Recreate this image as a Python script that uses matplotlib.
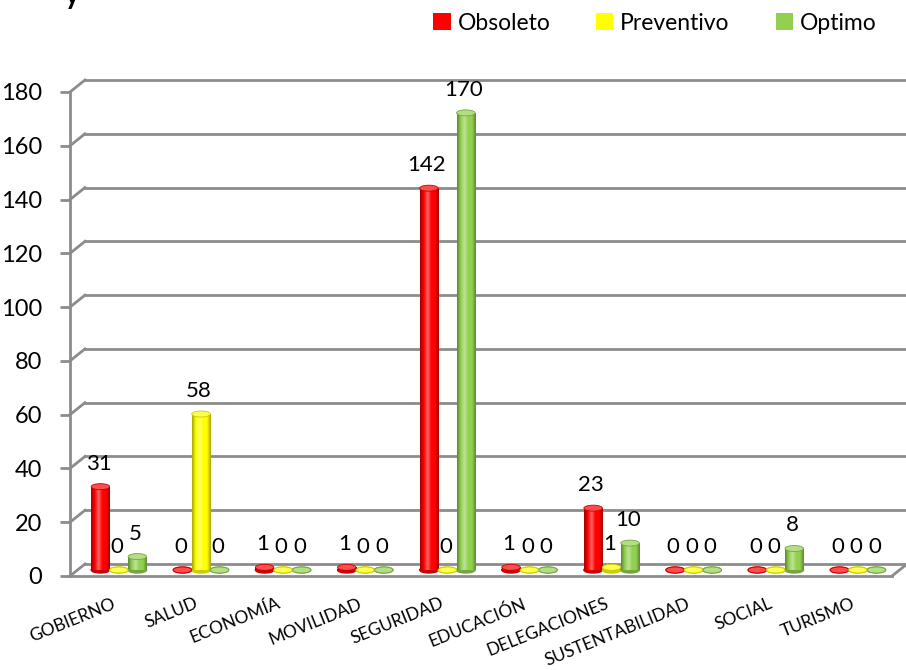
import numpy as np
import matplotlib
matplotlib.use("Agg")
import matplotlib.pyplot as plt
import matplotlib.transforms as mtransforms
from matplotlib.patches import Ellipse, Patch
from matplotlib.colors import LinearSegmentedColormap, to_rgb

plt.rcParams['font.family'] = ['Lato', 'DejaVu Sans']

categories = ["GOBIERNO", "SALUD", "ECONOMÍA", "MOVILIDAD", "SEGURIDAD",
              "EDUCACIÓN", "DELEGACIONES", "SUSTENTABILIDAD", "SOCIAL", "TURISMO"]
series_names = ["Obsoleto", "Preventivo", "Optimo"]
obsoleto   = [31, 0, 1, 1, 142, 1, 23, 0, 0, 0]
preventivo = [0, 58, 0, 0, 0, 0, 1, 0, 0, 0]
optimo     = [5, 0, 0, 0, 170, 0, 10, 0, 8, 0]
yticks = [0, 20, 40, 60, 80, 100, 120, 140, 160, 180]

colors = ["#FF0000", "#FFFF00", "#92D050"]
values = [obsoleto, preventivo, optimo]

fig = plt.figure(figsize=(9.06, 6.70), dpi=100)
ax = fig.add_axes([70/906, 1 - 576/670, (892-70)/906, (576-92)/670])
XMIN, XMAX = -0.51, 9.5
ax.set_xlim(XMIN, XMAX)
ax.set_ylim(0, 180)
for s in ax.spines.values():
    s.set_visible(False)

GRID = "#8C8C8C"
# 3-D look: back wall sits up/right of the front axis, bars halfway in between
back = mtransforms.offset_copy(ax.transData, fig, x=15, y=12, units='dots')
mid = mtransforms.offset_copy(ax.transData, fig, x=7, y=6, units='dots')

for v in yticks:
    ax.plot([XMIN, XMAX], [v, v], color=GRID, lw=2, transform=back, clip_on=False, zorder=1)
for v in yticks:
    p0 = ax.transData.transform((XMIN, v))
    p1 = back.transform((XMIN, v))
    fig.add_artist(plt.Line2D([p0[0]/906, p1[0]/906], [p0[1]/670, p1[1]/670],
                              color=GRID, lw=2, zorder=1))
ax.plot([XMIN, XMAX], [0, 0], color=GRID, lw=2, clip_on=False, zorder=1)
q0 = ax.transData.transform((XMAX, 0))
q1 = back.transform((XMAX, 0))
fig.add_artist(plt.Line2D([q0[0]/906, q1[0]/906], [q0[1]/670, q1[1]/670], color=GRID, lw=2))
ax.plot([XMIN, XMIN], [0, 180], color=GRID, lw=2, clip_on=False, zorder=1)

ax.set_yticks(yticks)
ax.tick_params(axis='y', length=7, width=2, color=GRID, labelsize=17, pad=13)
ax.set_xticks(range(len(categories)))
ax.set_xticklabels(categories, rotation=22, ha='right', rotation_mode='anchor', fontsize=12.5)
ax.tick_params(axis='x', length=0, pad=14)

W = 0.225
px_per_unit = 484 / 180
ell_h = 6 / px_per_unit


def shade_cmap(c):
    r, g, b = to_rgb(c)
    dark = (r*0.65, g*0.65, b*0.65)
    light = tuple(min(1, x + (1 - x)*0.4) for x in (r, g, b))
    return LinearSegmentedColormap.from_list("cyl", [dark, (r, g, b), light, (r, g, b), (r, g, b), dark])


grad = np.linspace(0, 1, 64).reshape(1, -1)
for si, (vals, c) in enumerate(zip(values, colors)):
    cmap = shade_cmap(c)
    r, g, bb = to_rgb(c)
    xs = np.arange(len(categories)) + (si - 1) * W
    bars = ax.bar(xs, vals, width=W, color=c, transform=mid, zorder=3, linewidth=0)
    for x, v, b in zip(xs, vals, bars):
        ax.add_patch(Ellipse((x, 0), W, ell_h, color=(r*0.8, g*0.8, bb*0.8),
                             transform=mid, zorder=2.9, clip_on=False))
        if v > 0:
            im = ax.imshow(grad, extent=(x - W/2, x + W/2, 0, v), cmap=cmap, aspect='auto',
                           transform=mid, zorder=3.1, interpolation='bilinear')
            im.set_clip_path(b)
        light = tuple(min(1, t + (1 - t)*0.3) for t in (r, g, bb))
        ax.add_patch(Ellipse((x, v), W, ell_h, facecolor=light, edgecolor=(r*0.8, g*0.8, bb*0.8),
                             lw=0.6, transform=mid, zorder=3.2, clip_on=False))
        ax.annotate(str(v), (x, v), xycoords=mid, xytext=(-2, 23), textcoords='offset pixels',
                    ha='center', va='center', fontsize=16, zorder=5)

ax.set_xlim(XMIN, XMAX)
ax.set_ylim(0, 180)

handles = [Patch(facecolor=c, edgecolor='none') for c in colors]
fig.legend(handles, series_names, loc='upper right', bbox_to_anchor=(0.99, 1.012), ncol=3,
           frameon=False, fontsize=16.5, handlelength=0.75, handleheight=0.75,
           handletextpad=0.3, columnspacing=2.0)

# clipped title fragment at the top edge
fig.text(0.072, 0.994, "y", fontsize=20, fontweight='bold', va='baseline')

fig.savefig("out.png", dpi=100)
